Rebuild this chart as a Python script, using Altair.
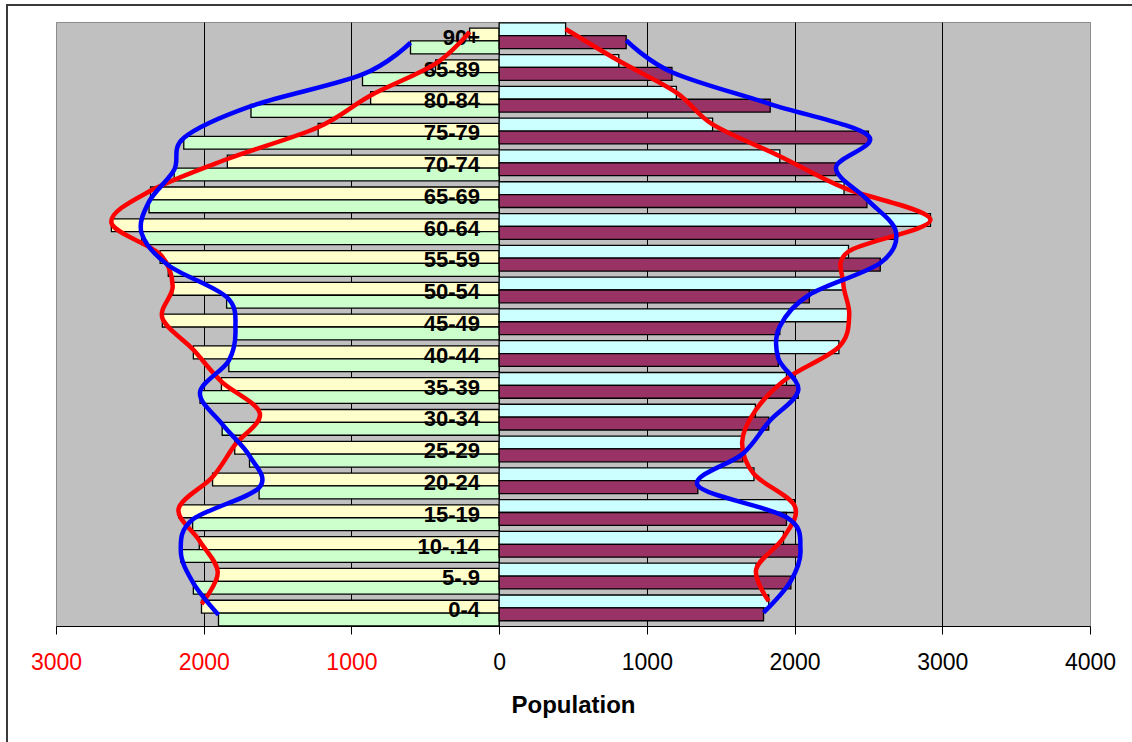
import altair as alt
import pandas as pd

# Age groups, bottom (youngest) to top (oldest)
age_groups = ["0-4", "5-.9", "10-.14", "15-19", "20-24", "25-29", "30-34",
              "35-39", "40-44", "45-49", "50-54", "55-59", "60-64", "65-69",
              "70-74", "75-79", "80-84", "85-89", "90+"]

# Left half (plotted to the left of zero)
left_upper = [2015, 1905, 2030, 2170, 1940, 1790, 1620, 1880, 2070, 2280,
              2210, 2295, 2625, 2360, 1840, 1225, 870, 430, 200]
left_lower = [1900, 2070, 2155, 2075, 1625, 1690, 1875, 2025, 1830, 1785,
              1845, 2240, 2420, 2370, 2200, 2135, 1680, 925, 600]

# Right half (plotted to the right of zero)
right_upper = [1825, 1740, 1925, 2000, 1725, 1645, 1735, 1945, 2300, 2370,
               2330, 2365, 2920, 2335, 1900, 1445, 1200, 810, 450]
right_lower = [1790, 1975, 2040, 1945, 1345, 1650, 1825, 2025, 1890, 1900,
               2100, 2580, 2685, 2490, 2280, 2500, 1835, 1170, 860]

x_ticks = [-3000, -2000, -1000, 0, 1000, 2000, 3000, 4000]

# Where each series sits inside one age group's band (fraction of the band),
# and the height at which its smoothed outline runs.
series_specs = [
    # name, values, side, band low, band high, curve level, fill, curve colour
    ("L-upper", left_upper, -1, 0.405, 0.81, 0.69, "#FFFFCC", "#FF0000"),
    ("L-lower", left_lower, -1, 0.0, 0.405, 0.35, "#CCFFCC", "#0000FF"),
    ("R-upper", right_upper, 1, 0.57, 0.975, 0.78, "#CCFFFF", "#FF0000"),
    ("R-lower", right_lower, 1, 0.165, 0.57, 0.42, "#993366", "#0000FF"),
]

bar_rows, line_rows = [], []
for name, values, side, lo, hi, lvl, fill, stroke in series_specs:
    for i, v in enumerate(values):
        bar_rows.append({"series": name, "age": age_groups[i], "value": v,
                         "x": side * v, "base": 0, "y0": i + lo, "y1": i + hi})
        line_rows.append({"curve": name, "idx": i, "x": side * v, "y": i + lvl})

bars_df = pd.DataFrame(bar_rows)
lines_df = pd.DataFrame(line_rows)
labels_df = pd.DataFrame({"age": age_groups,
                          "y": [i + 0.5 for i in range(len(age_groups))]})

FONT = "Liberation Sans"
x_scale = alt.Scale(domain=[-3000, 4000], nice=False, zero=False)
y_scale = alt.Scale(domain=[0, 19], nice=False, zero=False)

fills = alt.Scale(domain=[s[0] for s in series_specs],
                  range=[s[6] for s in series_specs])
strokes = alt.Scale(domain=[s[0] for s in series_specs],
                    range=[s[7] for s in series_specs])

x_axis = alt.Axis(
    values=x_ticks,
    grid=True,
    gridColor=alt.condition("datum.value == -3000 || datum.value == 4000",
                            alt.value("#8c8c8c"), alt.value("#000000")),
    gridWidth=1,
    domainColor="#000000",
    domainWidth=1,
    tickColor="#000000",
    tickSize=8,
    tickWidth=1,
    labelExpr="format(abs(datum.value), 'd')",
    labelColor=alt.condition("datum.value < 0",
                             alt.value("#FF0000"), alt.value("#000000")),
    labelFont=FONT,
    labelFontSize=23,
    labelPadding=17,
    labelFlush=False,
    title="Population",
    titleFont=FONT,
    titleFontSize=24,
    titleFontWeight="bold",
    titleColor="#000000",
    titleBaseline="alphabetic",
    titleY=86,
)

bars = alt.Chart(bars_df).mark_bar(
    stroke="#000000", strokeWidth=1.3, opacity=1
).encode(
    x=alt.X("x:Q", scale=x_scale, axis=x_axis),
    x2="base:Q",
    y=alt.Y("y0:Q", scale=y_scale, axis=None),
    y2="y1:Q",
    color=alt.Color("series:N", scale=fills, legend=None),
)

labels = alt.Chart(labels_df).mark_text(
    align="right", baseline="middle", font=FONT, fontSize=22,
    fontWeight="bold", color="#000000"
).encode(
    x=alt.value(424),
    y=alt.Y("y:Q", scale=y_scale, axis=None),
    text="age:N",
)

curves = alt.Chart(lines_df).mark_line(
    interpolate="cardinal", tension=0, strokeWidth=4.5, strokeCap="butt"
).encode(
    x=alt.X("x:Q", scale=x_scale),
    y=alt.Y("y:Q", scale=y_scale, axis=None),
    color=alt.Color("curve:N", scale=strokes, legend=None),
    detail="curve:N",
    order="idx:Q",
)

# Outer chart-area border
frame = alt.Chart(pd.DataFrame({"k": [0]})).mark_rect(
    filled=False, stroke="#3a3a3a", strokeWidth=2
).encode(
    x=alt.value(-49), x2=alt.value(1300),
    y=alt.value(-17), y2=alt.value(900),
)

chart = alt.layer(bars, labels, curves, frame).resolve_scale(
    color="independent"
).properties(
    width=1034,
    height=604,
    autosize=alt.AutoSizeParams(type="none"),
    padding={"left": 56, "top": 22, "right": 42, "bottom": 116},
    background="#FFFFFF",
).configure_view(
    fill="#C0C0C0", stroke="#8c8c8c", strokeWidth=1
)

chart.save("out.html", embed_options={"renderer": "svg", "actions": False})
